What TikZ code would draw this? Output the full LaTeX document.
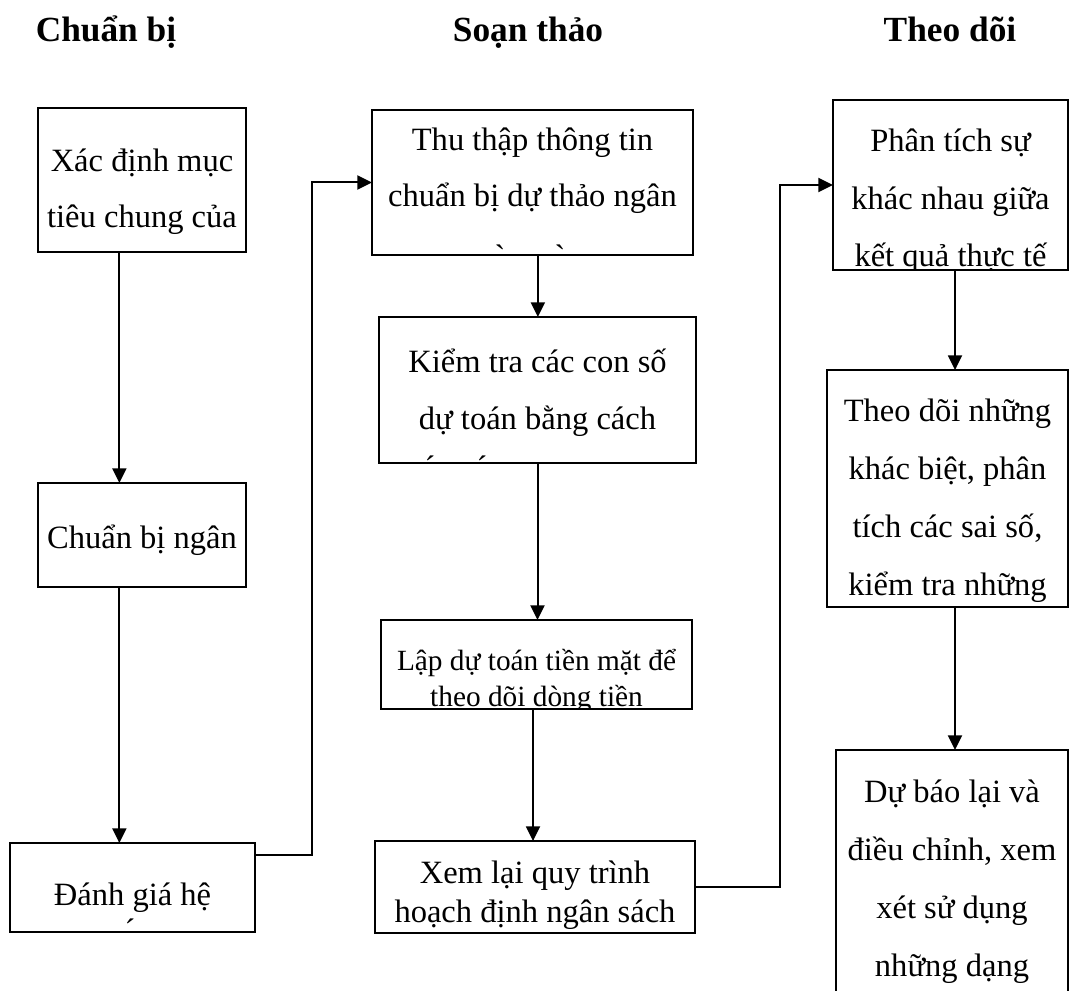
\documentclass[tikz,border=0pt]{standalone}
\usepackage{fontspec}
\setmainfont{Liberation Serif}
\newfontfamily\accfont{Liberation Serif}
\usetikzlibrary{arrows.meta}

\newcommand\boxlines[5]{%
  \foreach \t [count=\i from 0] in {#5}
    \node[txt] (#1-\i) at (#2,{#3+#4*\i}) {\t};}

\begin{document}
\begin{tikzpicture}[
  x=0.75pt, y=-0.75pt,
  cell/.style 2 args={draw,line width=1.3pt,anchor=north west,inner sep=0pt,outer sep=0pt,minimum width=#1*0.75pt,minimum height=#2*0.75pt},
  txt/.style={anchor=base,inner sep=0pt,font=\fontsize{24.4}{29}\selectfont},
  head/.style={anchor=base,inner sep=0pt,font=\fontsize{26.5}{31}\selectfont\bfseries},
  acc/.style={anchor=base,inner sep=0pt,font=\accfont\fontsize{24.4}{29}\selectfont},
  link/.style={line width=1.5pt,-{Triangle[length=11pt,width=10.5pt]}}
]
\useasboundingbox (0,0) rectangle (1071,991);
\clip (0,0) rectangle (1071,991);

\node[head] (hprep)  at (106,42) {Chuẩn bị};
\node[head] (hdraft) at (528,42) {Soạn thảo};
\node[head] (hwatch) at (950,42) {Theo dõi};

\node[cell={208}{144}] (b1)  at (38,108)  {};
\node[cell={208}{104}] (b2)  at (38,483)  {};
\node[cell={245}{89}]  (b3)  at (10,843)  {};
\node[cell={321}{145}] (b4)  at (372,110) {};
\node[cell={317}{146}] (b5)  at (379,317) {};
\node[cell={311}{89}]  (b6)  at (381,620) {};
\node[cell={320}{92}]  (b7)  at (375,841) {};
\node[cell={235}{170}] (b8)  at (833,100) {};
\node[cell={241}{237}] (b9)  at (827,370) {};
\node[cell={232}{260}] (b10) at (836,750) {};

\begin{scope}
  \clip (b1.north west) rectangle (b1.south east);
  \boxlines{b1}{142}{172}{56}{{Xác định mục},{tiêu chung của}}
\end{scope}
\begin{scope}
  \clip (b2.north west) rectangle (b2.south east);
  \boxlines{b2}{142}{548}{56}{{Chuẩn bị ngân}}
\end{scope}
\begin{scope}
  \clip (b3.north west) rectangle (b3.south east);
  \boxlines{b3}{132.5}{905}{56}{{Đánh giá hệ}}
  \node[acc] (b3-acc) at (130,941) {´};
\end{scope}
\begin{scope}
  \clip (b4.north west) rectangle (b4.south east);
  \boxlines{b4}{532.5}{151}{56}{{Thu thập thông tin},{chuẩn bị dự thảo ngân}}
  \node[acc] (b4-acc1) at (500,268) {`};
  \node[acc] (b4-acc2) at (560,268) {`};
\end{scope}
\begin{scope}
  \clip (b5.north west) rectangle (b5.south east);
  \boxlines{b5}{537.5}{373}{56}{{Kiểm tra các con số},{dự toán bằng cách}}
  \node[acc] (b5-acc1) at (430,478) {´};
  \node[acc] (b5-acc2) at (482,478) {´};
\end{scope}
\begin{scope}[txt/.append style={font=\fontsize{22}{26}\selectfont}]
  \clip (b6.north west) rectangle (b6.south east);
  \boxlines{b6}{536.5}{670}{36}{{Lập dự toán tiền mặt để},{theo dõi dòng tiền}}
\end{scope}
\begin{scope}
  \clip (b7.north west) rectangle (b7.south east);
  \boxlines{b7}{535}{883}{39}{{Xem lại quy trình},{hoạch định ngân sách}}
\end{scope}
\begin{scope}
  \clip (b8.north west) rectangle (b8.south east);
  \boxlines{b8}{950.5}{152}{57.5}{{Phân tích sự},{khác nhau giữa},{kết quả thực tế}}
\end{scope}
\begin{scope}
  \clip (b9.north west) rectangle (b9.south east);
  \boxlines{b9}{947.5}{421}{58}{{Theo dõi những},{khác biệt, phân},{tích các sai số,},{kiểm tra những}}
\end{scope}
\begin{scope}
  \clip (b10.north west) rectangle (b10.south east);
  \boxlines{b10}{952}{802}{58}{{Dự báo lại và},{điều chỉnh, xem},{xét sử dụng},{những dạng}}
\end{scope}

\draw[link] ([xshift=-17pt]b1.south) -- ([xshift=-17pt]b1.south |- b2.north);
\draw[link] ([xshift=-17pt]b2.south) -- ([xshift=-17pt]b2.south |- b3.north);
\draw[link] ([yshift=-9pt]b3.north east) -- ++(57,0) |- (b4.west);
\draw[link] ([xshift=4pt]b4.south) -- ([xshift=4pt]b4.south |- b5.north);
\draw[link] (b5.south) -- (b5.south |- b6.north);
\draw[link] ([xshift=-2.6pt]b6.south) -- ([xshift=-2.6pt]b6.south |- b7.north);
\draw[link] (b7.east) -- ++(85,0) |- (b8.west);
\draw[link] ([xshift=3.4pt]b8.south) -- ([xshift=3.4pt]b8.south |- b9.north);
\draw[link] ([xshift=5.6pt]b9.south) -- ([xshift=5.6pt]b9.south |- b10.north);
\end{tikzpicture}
\end{document}
